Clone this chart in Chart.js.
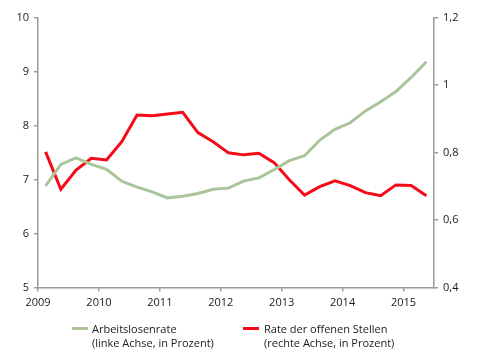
<!DOCTYPE html>
<html>
<head>
<meta charset="utf-8">
<script src="https://cdn.jsdelivr.net/npm/chart.js@4/dist/chart.umd.min.js"></script>
<style>
  html, body { margin: 0; padding: 0; background: #fff; }
  #wrap { position: relative; width: 480px; height: 360px; }
  canvas { position: absolute; left: 0; top: 0; }
  .leg { position: absolute; font-family: "Open Sans", sans-serif; font-size: 11px; line-height: 13.5px; color: #1a1a1a; }
  .sw { position: absolute; height: 3px; width: 16px; }
</style>
</head>
<body>
<div id="wrap">
  <canvas id="c" width="480" height="360"></canvas>
  <div class="sw" style="left:72px; top:327px; background:rgb(170,196,155);"></div>
  <div class="leg" style="left:92px; top:322px;">Arbeitslosenrate<br>(linke Achse, in Prozent)</div>
  <div class="sw" style="left:243px; top:327px; background:rgb(245,10,25);"></div>
  <div class="leg" style="left:264px; top:322px;">Rate der offenen Stellen<br>(rechte Achse, in Prozent)</div>
</div>
<script>
// Quarters 2009 Q1 .. 2015 Q2
const quarters = ["2009 Q1","2009 Q2","2009 Q3","2009 Q4","2010 Q1","2010 Q2","2010 Q3","2010 Q4",
  "2011 Q1","2011 Q2","2011 Q3","2011 Q4","2012 Q1","2012 Q2","2012 Q3","2012 Q4",
  "2013 Q1","2013 Q2","2013 Q3","2013 Q4","2014 Q1","2014 Q2","2014 Q3","2014 Q4",
  "2015 Q1","2015 Q2"];
// Arbeitslosenrate (left axis, %)
const unemployment = [6.88,7.28,7.40,7.28,7.19,6.97,6.86,6.77,6.66,6.69,6.74,6.82,6.84,
  6.97,7.03,7.18,7.35,7.44,7.73,7.93,8.05,8.27,8.44,8.63,8.89,9.18];
// Rate der offenen Stellen (right axis, %)
const vacancies = [0.802,0.691,0.748,0.783,0.778,0.832,0.911,0.909,0.914,0.919,0.859,0.832,0.799,
  0.793,0.798,0.770,0.719,0.674,0.699,0.716,0.702,0.681,0.672,0.704,0.702,0.672];
const yearTicks = [2009,2010,2011,2012,2013,2014,2015];
const leftTicks = [5,6,7,8,9,10];
const rightTicks = [0.4,0.6,0.8,1.0,1.2];

const xPos = quarters.map(q => {
  const [y, qq] = q.split(" Q");
  return Number(y) + (Number(qq) - 0.5) / 4;
});
const greenPts = unemployment.map((v, i) => ({ x: xPos[i], y: v }));
const redPts = vacancies.map((v, i) => ({ x: xPos[i], y: v }));

const axisColor = "#9a9a9a";
const font = { family: "'Open Sans', sans-serif", size: 11 };
const tickColor = "#1a1a1a";

new Chart(document.getElementById("c"), {
  type: "line",
  data: {
    datasets: [
      { label: "Arbeitslosenrate", data: greenPts, yAxisID: "y",
        borderColor: "rgb(170,196,155)", borderWidth: 3, pointRadius: 0, tension: 0, fill: false },
      { label: "Rate der offenen Stellen", data: redPts, yAxisID: "y1",
        borderColor: "rgb(245,10,25)", borderWidth: 3, pointRadius: 0, tension: 0, fill: false }
    ]
  },
  options: {
    responsive: false,
    animation: false,
    layout: { padding: { top: 17.5, left: 0, right: 0, bottom: 0 } },
    plugins: { legend: { display: false }, tooltip: { enabled: false } },
    scales: {
      x: {
        type: "linear", min: 2009, max: 2015.5,
        afterBuildTicks: s => { s.ticks = yearTicks.map(v => ({ value: v })); },
        afterFit: s => { s.height = 72.5; },
        grid: { drawOnChartArea: false, drawTicks: true, tickLength: 4, color: axisColor, lineWidth: 1.5 },
        border: { display: true, color: axisColor, width: 1.5 },
        ticks: { font, color: tickColor, padding: 5, maxRotation: 0, callback: v => String(v) }
      },
      y: {
        position: "left", min: 5, max: 10,
        afterBuildTicks: s => { s.ticks = leftTicks.map(v => ({ value: v })); },
        afterFit: s => { s.width = 38; },
        grid: { drawOnChartArea: false, drawTicks: true, tickLength: 4, color: axisColor, lineWidth: 1.5 },
        border: { display: true, color: axisColor, width: 1.5 },
        ticks: { font, color: tickColor, padding: 5, callback: v => String(v) }
      },
      y1: {
        position: "right", min: 0.4, max: 1.2,
        afterBuildTicks: s => { s.ticks = rightTicks.map(v => ({ value: v })); },
        afterFit: s => { s.width = 46; },
        grid: { drawOnChartArea: false, drawTicks: true, tickLength: 4, color: axisColor, lineWidth: 1.5 },
        border: { display: true, color: axisColor, width: 1.5 },
        ticks: { font, color: tickColor, padding: 5,
          callback: v => String(+Number(v).toFixed(1)).replace(".", ",") }
      }
    }
  }
});
</script>
</body>
</html>
